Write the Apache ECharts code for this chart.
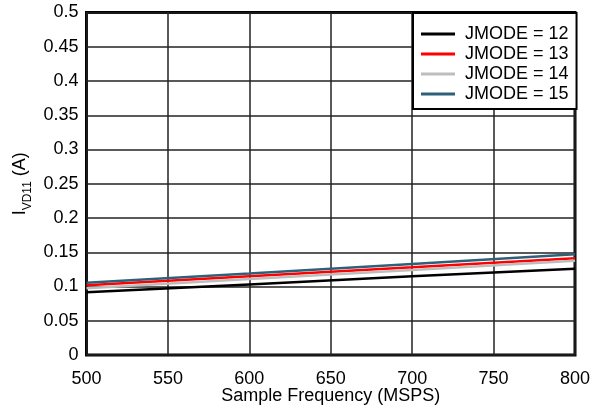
<!DOCTYPE html>
<html><head><meta charset="utf-8">
<script src="https://cdn.jsdelivr.net/npm/echarts@6/dist/echarts.min.js"></script>
<style>html,body{margin:0;padding:0;background:#fff}#c{width:600px;height:410px}</style>
</head><body><div id="c"></div>
<script>
const freq = [500, 600, 700, 800];
const jmode12 = [0.0915, 0.103, 0.115, 0.126];
const jmode13 = [0.1018, 0.115, 0.128, 0.1412];
const jmode14 = [0.0974, 0.111, 0.124, 0.1377];
const jmode15 = [0.1055, 0.119, 0.133, 0.147];
const seriesNames = ['JMODE = 12', 'JMODE = 13', 'JMODE = 14', 'JMODE = 15'];
const seriesColors = ['#000000', '#ff0000', '#bdbdbd', '#2f6079'];
const seriesData = [jmode12, jmode13, jmode14, jmode15];

const font = 'Liberation Sans, Arial, sans-serif';
const chart = echarts.init(document.getElementById('c'));
chart.setOption({
  animation: false,
  grid: {left: 86.5, right: 25, top: 12.5, bottom: 55, containLabel: false, outerBoundsMode: 'none',
         show: true, borderColor: '#000', borderWidth: 3, backgroundColor: 'transparent'},
  legend: {
    orient: 'vertical', left: 413, top: 13,
    data: seriesNames,
    icon: 'rect', itemWidth: 34, itemHeight: 3, itemGap: 0,
    padding: [11, 8, 5, 8],
    backgroundColor: '#fff', borderColor: '#000', borderWidth: 2,
    textStyle: {fontFamily: font, fontSize: 18, color: '#000', lineHeight: 20, padding: [0, 0, 0, 5]}
  },
  xAxis: {
    type: 'value', min: 500, max: 800, interval: 50,
    name: 'Sample Frequency (MSPS)', nameLocation: 'middle', nameGap: 32, nameMoveOverlap: false,
    nameTextStyle: {fontFamily: font, fontSize: 18, color: '#000'},
    axisLine: {show: false}, axisTick: {show: false},
    axisLabel: {fontFamily: font, fontSize: 18, color: '#000', margin: 15},
    splitLine: {show: true, lineStyle: {color: '#222', width: 1.5}}
  },
  yAxis: {
    type: 'value', min: 0, max: 0.5, interval: 0.05,
    name: '{a|I}{b|VD11}{a| (A)}', nameLocation: 'middle', nameGap: 57, nameRotate: 90, nameMoveOverlap: false,
    nameTextStyle: {fontFamily: font, fontSize: 18, color: '#000',
      rich: {a: {fontFamily: font, fontSize: 18, color: '#000', lineHeight: 22, verticalAlign: 'bottom'},
             b: {fontFamily: font, fontSize: 12, color: '#000', lineHeight: 22, verticalAlign: 'bottom', padding: [0, 0, -4, 0]}}},
    axisLine: {show: false}, axisTick: {show: false},
    axisLabel: {fontFamily: font, fontSize: 18, color: '#000', margin: 8, formatter: v => String(+v.toFixed(2))},
    splitLine: {show: true, lineStyle: {color: '#222', width: 1.5}}
  },
  series: seriesNames.map((n, i) => ({
    name: n, type: 'line', showSymbol: false, symbol: 'none',
    data: freq.map((f, j) => [f, seriesData[i][j]]),
    lineStyle: {color: seriesColors[i], width: 2.5},
    itemStyle: {color: seriesColors[i]},
    z: 3
  }))
});
</script></body></html>
